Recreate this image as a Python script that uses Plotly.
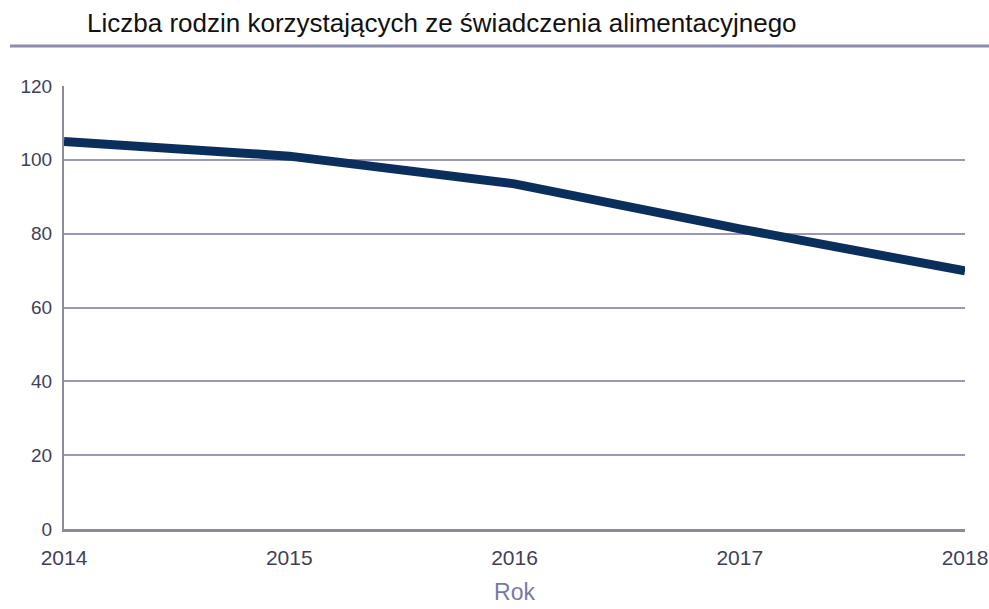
import plotly.graph_objects as go

# Rodziny korzystające ze świadczenia alimentacyjnego (tys.)
lata = [2014, 2015, 2016, 2017, 2018]
rodziny = [105.0, 101.0, 93.5, 81.3, 69.9]

tytul = "Liczba rodzin korzystających ze świadczenia alimentacyjnego"
tytul_osi_x = "Rok"

FONT = "Liberation Sans, Arial, sans-serif"
GRID = "#9a98b8"
AXIS = "#8a8c9a"
TICK = "#3f3f5a"

fig = go.Figure()
fig.add_trace(go.Scatter(
    x=lata, y=rodziny, mode="lines",
    line=dict(color="#0b2f5c", width=9),
    hoverinfo="x+y", showlegend=False,
))

fig.update_layout(
    width=989, height=609,
    margin=dict(l=64, r=24, t=86, b=80, autoexpand=False),
    paper_bgcolor="white", plot_bgcolor="white",
    title=dict(text=tytul, x=87 / 989, xanchor="left",
               y=1 - 23 / 609, yanchor="middle", yref="container",
               font=dict(family=FONT, size=26, color="#111111")),
    xaxis=dict(
        range=[2014, 2018], tickvals=lata, ticktext=[str(v) for v in lata],
        showgrid=False, zeroline=False, automargin=False,
        ticklabeloverflow="allow",
        showline=True, linecolor=AXIS, linewidth=3,
        ticks="", ticklabelstandoff=8,
        tickfont=dict(family=FONT, size=21, color=TICK),
        title=dict(text=tytul_osi_x, standoff=16,
                   font=dict(family=FONT, size=23, color="#7a78a8")),
    ),
    yaxis=dict(
        range=[0, 120], dtick=20, showgrid=True, gridcolor=GRID, gridwidth=2,
        zeroline=False, showline=True, linecolor=AXIS, linewidth=2,
        ticks="", ticklabelstandoff=6, automargin=False,
        ticklabeloverflow="allow",
        tickfont=dict(family=FONT, size=19, color=TICK),
    ),
)

# linia oddzielająca tytuł od wykresu
fig.add_shape(type="line", xref="paper", yref="paper",
              x0=(10 - 64) / 901, x1=(989 - 64) / 901,
              y0=(529 - 46) / 443, y1=(529 - 46) / 443,
              line=dict(color="#8c8cae", width=3))

fig.write_html("out.html")
